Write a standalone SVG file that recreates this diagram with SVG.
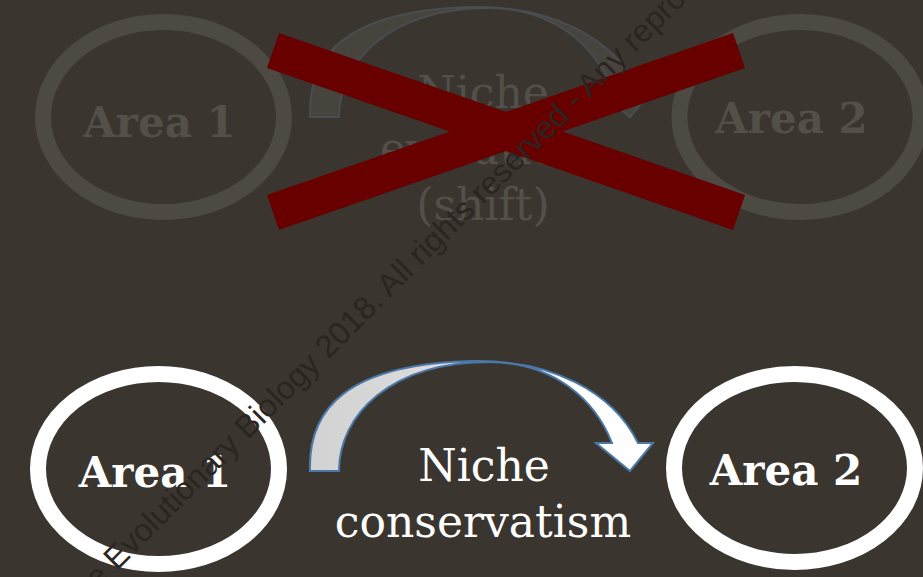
<svg xmlns="http://www.w3.org/2000/svg" width="923" height="577" viewBox="0 0 923 577">
  <style>
    .ring { fill: none; stroke: #ffffff; stroke-width: 16; }
    .faded .ring { stroke: #4d4943; }
    .area { font-family: "DejaVu Serif", "Liberation Serif", serif; font-weight: bold; font-size: 42px; fill: #ffffff; text-anchor: middle; }
    .label { font-family: "DejaVu Serif", "Liberation Serif", serif; font-size: 44px; fill: #ffffff; text-anchor: middle; }
    .faded .area, .faded .label { fill: #534f49; }
    .arrow { fill: url(#arrowFill); stroke: #4a78a8; stroke-width: 2; stroke-linejoin: miter; }
    .faded .arrow { fill: #47433d; stroke: #4a4d50; }
    .cross { fill: #690000; }
    .wm { font-family: "Liberation Sans", Arial, sans-serif; font-size: 32px; fill: #2a2521; }
  </style>
  <defs>
    <linearGradient id="arrowFill" x1="0" y1="0" x2="1" y2="0">
      <stop offset="0" stop-color="#d2d2d2"/>
      <stop offset="0.45" stop-color="#dedede"/>
      <stop offset="0.55" stop-color="#fbfbfb"/>
      <stop offset="1" stop-color="#ffffff"/>
    </linearGradient>
    <path id="curvedArrow" d="M310,471 C308,410 345,363 477,361 C550,361 612,390 638,443 L653,443 L630,471 L596,443 L612,443 C595,400 555,363 490,362 C390,362 339,415 339,471 Z"/>
  </defs>

  <rect width="923" height="577" fill="#3b3530"/>

  <!-- Faded top scenario -->
  <g class="faded">
    <g id="top-area1">
      <ellipse class="ring" cx="163.5" cy="117" rx="120.5" ry="95"/>
      <text class="area" x="159.5" y="137">Area 1</text>
    </g>
    <g id="top-area2">
      <ellipse class="ring" cx="800" cy="117" rx="120.5" ry="95"/>
      <text class="area" x="791.5" y="133">Area 2</text>
    </g>
    <g id="top-connectors">
      <use href="#curvedArrow" class="arrow" transform="translate(0,-354)"/>
    </g>
    <g id="top-label">
      <text class="label" x="483" y="108">Niche</text>
      <text class="label" x="483" y="164">evolution</text>
      <text class="label" x="483" y="220">(shift)</text>
    </g>
  </g>

  <!-- Red cross -->
  <g id="cross">
    <polygon class="cross" points="279,33 745,195 733,230 267,68"/>
    <polygon class="cross" points="733,33 745,68 279,230 267,195"/>
  </g>

  <!-- Bottom scenario -->
  <g id="area1">
    <ellipse class="ring" cx="158.5" cy="469" rx="120.5" ry="95"/>
    <text class="area" x="155" y="487">Area 1</text>
  </g>
  <g id="area2">
    <ellipse class="ring" cx="794.5" cy="468" rx="120.5" ry="94"/>
    <text class="area" x="786" y="485">Area 2</text>
  </g>
  <g id="connectors">
    <use href="#curvedArrow" class="arrow"/>
  </g>
  <g id="label">
    <text class="label" x="484" y="481">Niche</text>
    <text class="label" x="483" y="537">conservatism</text>
  </g>

  <!-- Watermark -->
  <text class="wm" transform="translate(98,590) rotate(-45)">e Evolutionary Biology 2018. All rights reserved - Any reprodu</text>
</svg>
